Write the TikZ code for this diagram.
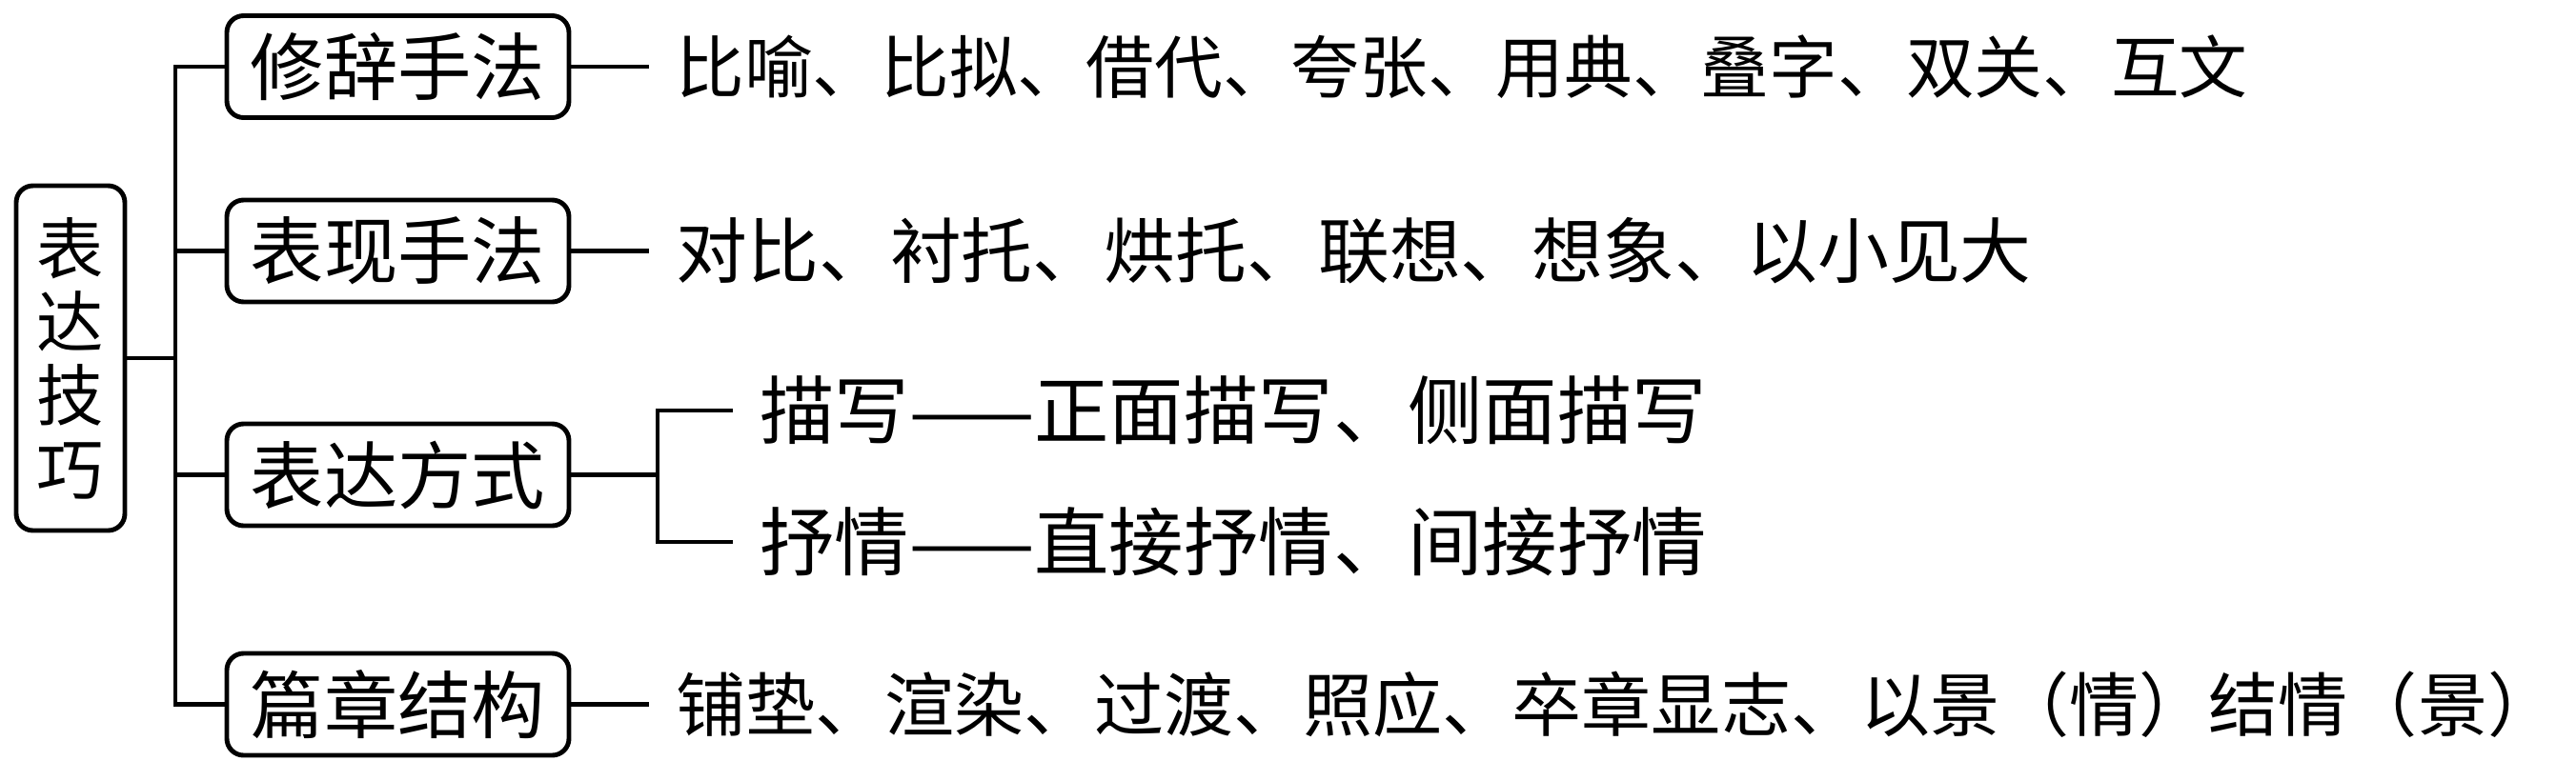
\documentclass[tikz,border=0pt]{standalone}
\usepackage{fontspec}
\newfontfamily\cjk{Noto Sans CJK SC}
\usetikzlibrary{positioning}
\begin{document}
\begin{tikzpicture}[
    line width=1.4pt,
    rootbox/.style={draw, rounded corners=5pt, minimum width=1.14cm, minimum height=3.62cm, align=center, inner sep=0pt, font=\cjk\fontsize{20}{22}\selectfont},
    catbox/.style={draw, rounded corners=5pt, minimum width=3.59cm, minimum height=1.07cm, inner sep=0pt, font=\cjk\fontsize{22}{26}\selectfont},
    item/.style={anchor=west, inner xsep=0.26cm, inner ysep=0pt, font=\cjk\fontsize{#1}{24}\selectfont},
    item/.default=20.4
]
\useasboundingbox (0,0) rectangle (27.03,8.19);
\node[rootbox] (root) at (0.74,4.43) {表\\达\\技\\巧};
\coordinate (spine) at (1.84,4.43);
% categories
\node[catbox] (xiuci) at (4.175,7.49) {修辞手法};
\node[catbox] (biaoxian) at (4.175,5.555) {表现手法};
\node[catbox] (fangshi) at (4.175,3.205) {表达方式};
\node[catbox] (pianzhang) at (4.175,0.795) {篇章结构};
\draw (root.east) -- (spine);
\draw (xiuci.west) -- (xiuci.west -| spine) -- (pianzhang.west -| spine) -- (pianzhang.west);
\draw (biaoxian.west) -- (biaoxian.west -| spine);
\draw (fangshi.west) -- (fangshi.west -| spine);
% items
\node[item] (r1) at (6.81,7.49) {比喻、比拟、借代、夸张、用典、叠字、双关、互文};
\node[item=21.3] (r2) at (6.81,5.555) {对比、衬托、烘托、联想、想象、以小见大};
\node[item=20.8] (r4) at (6.81,0.795) {铺垫、渲染、过渡、照应、卒章显志、以景（情）结情（景）};
\draw (xiuci.east) -- (r1.west);
\draw (biaoxian.east) -- (r2.west);
\draw (pianzhang.east) -- (r4.west);
% fangshi branches
\coordinate (fork) at (6.90,3.205);
\node[item=22.3] (miaoxie) at (7.69,3.88) {描写——正面描写、侧面描写};
\node[item=22.3] (shuqing) at (7.69,2.50) {抒情——直接抒情、间接抒情};
\draw (fangshi.east) -- (fork);
\draw (miaoxie.west) -| (fork) |- (shuqing.west);
\end{tikzpicture}
\end{document}
